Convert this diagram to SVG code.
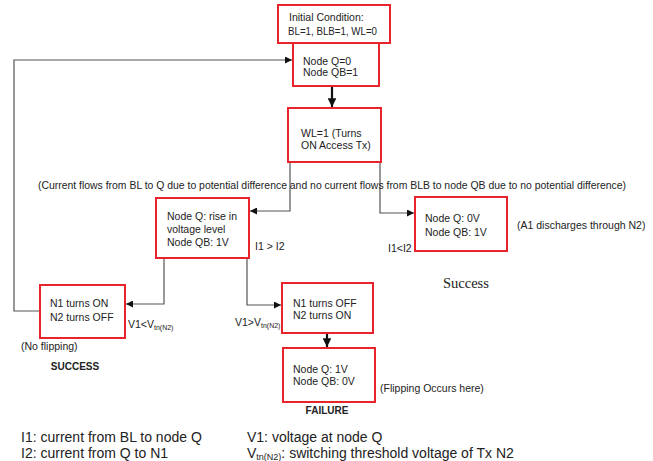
<svg xmlns="http://www.w3.org/2000/svg" width="653" height="461" viewBox="0 0 653 461">
<defs>
<marker id="ah" viewBox="0 0 10 10" refX="10" refY="5" markerWidth="7" markerHeight="7" markerUnits="userSpaceOnUse" orient="auto"><path d="M0,0 L10,5 L0,10 z" fill="#111"/></marker>
<marker id="ahb" viewBox="0 0 10 10" refX="10" refY="5" markerWidth="4" markerHeight="4" orient="auto"><path d="M0,0 L10,5 L0,10 z" fill="#111"/></marker>
<style>
.box{fill:#fff;stroke:#e8232b;stroke-width:2}
.t{font-family:"Liberation Sans",Arial,sans-serif;font-size:10.5px;fill:#222}
.lg{font-family:"Liberation Sans",Arial,sans-serif;font-size:14px;fill:#222}
.b{font-weight:bold;font-size:10px}
.sub{font-size:7px}
.c{fill:none;stroke:#555;stroke-width:1.2}
.k{fill:none;stroke:#111;stroke-width:2.2}
</style>
</defs>
<rect width="653" height="461" fill="#fff"/>
<g id="connectors">
<polyline class="c" points="40,311 14,311 14,60 292,60" marker-end="url(#ah)"/>
<line class="k" x1="332" y1="86" x2="332" y2="107" marker-end="url(#ahb)"/>
<polyline class="c" points="290,162 290,211 250,211" marker-end="url(#ah)"/>
<polyline class="c" points="380,162 380,213 414,213" marker-end="url(#ah)"/>
<polyline class="c" points="164,258 164,304 126,304" marker-end="url(#ah)"/>
<polyline class="c" points="247,258 247,305 281,305" marker-end="url(#ah)"/>
<line class="k" x1="327" y1="333" x2="327" y2="347" marker-end="url(#ahb)"/>
</g>
<g id="n1"><rect class="box" x="278" y="5" width="112" height="38"/><text class="t" x="289" y="21">Initial Condition:</text><text class="t" x="288" y="35" textLength="89" lengthAdjust="spacingAndGlyphs">BL=1, BLB=1, WL=0</text></g>
<g id="n2"><rect class="box" x="293" y="43" width="86" height="43"/><text class="t" x="303" y="65">Node Q=0</text><text class="t" x="303" y="76">Node QB=1</text></g>
<g id="n3"><rect class="box" x="288" y="108" width="93" height="54"/><text class="t" x="301" y="137">WL=1 (Turns</text><text class="t" x="301" y="149">ON Access Tx)</text></g>
<g id="n4"><rect class="box" x="156" y="198" width="93" height="60"/><text class="t" x="167" y="220">Node Q: rise in</text><text class="t" x="167" y="233">voltage level</text><text class="t" x="167" y="246">Node QB: 1V</text></g>
<g id="n5"><rect class="box" x="415" y="197" width="92" height="54"/><text class="t" x="425" y="222">Node Q: 0V</text><text class="t" x="425" y="236">Node QB: 1V</text></g>
<g id="n6"><rect class="box" x="40" y="285" width="85" height="53"/><text class="t" x="50" y="307">N1 turns ON</text><text class="t" x="50" y="321">N2 turns OFF</text></g>
<g id="n7"><rect class="box" x="282" y="283" width="91" height="50"/><text class="t" x="293" y="307">N1 turns OFF</text><text class="t" x="293" y="319">N2 turns ON</text></g>
<g id="n8"><rect class="box" x="283" y="348" width="92" height="54"/><text class="t" x="293" y="373">Node Q: 1V</text><text class="t" x="293" y="385">Node QB: 0V</text></g>
<g id="labels">
<text class="t" x="38" y="189" textLength="588" lengthAdjust="spacingAndGlyphs">(Current flows from BL to Q due to potential difference and no current flows from BLB to node QB due to no potential difference)</text>
<text class="t" x="255" y="250">I1 &gt; I2</text>
<text class="t" x="388" y="252">I1&lt;I2</text>
<text class="t" x="517" y="229">(A1 discharges through N2)</text>
<text x="443" y="288" style="font-family:'Liberation Serif','Times New Roman',serif;font-size:14.5px;fill:#222">Success</text>
<text class="t" x="128" y="328">V1&lt;V<tspan class="sub" dy="2">tn(N2)</tspan></text>
<text class="t" x="235" y="326">V1&gt;V<tspan class="sub" dy="2">tn(N2)</tspan></text>
<text class="t" x="21" y="350">(No flipping)</text>
<text class="t b" x="75" y="370" text-anchor="middle">SUCCESS</text>
<text class="t" x="380" y="392">(Flipping Occurs here)</text>
<text class="t b" x="327" y="414" text-anchor="middle">FAILURE</text>
<text class="lg" x="21" y="442">I1: current from BL to node Q</text>
<text class="lg" x="21" y="458">I2: current from Q to N1</text>
<text class="lg" x="247" y="442">V1: voltage at node Q</text>
<text class="lg" x="247" y="458">V<tspan style="font-size:9px" dy="2">tn(N2)</tspan><tspan dy="-2">: switching threshold voltage of Tx N2</tspan></text>
</g>
</svg>
